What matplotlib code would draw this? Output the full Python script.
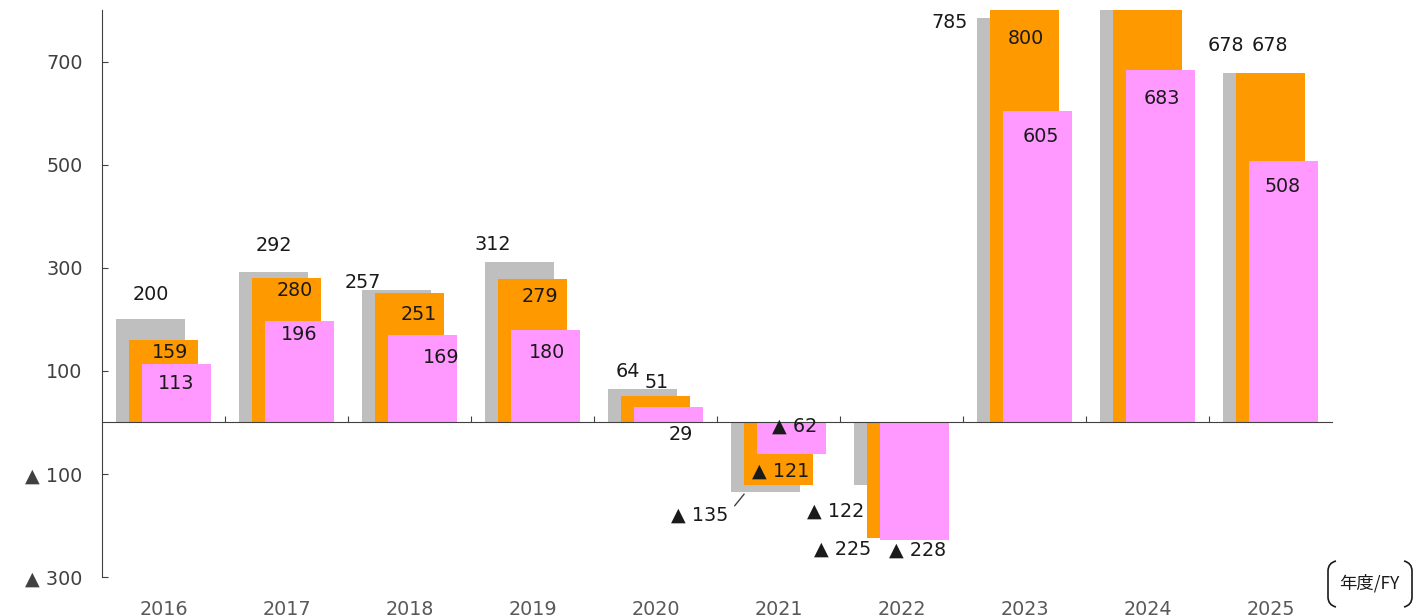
import matplotlib.pyplot as plt
import matplotlib.transforms as mtransforms
from matplotlib.path import Path
from matplotlib.patches import PathPatch

years = ['2016', '2017', '2018', '2019', '2020', '2021', '2022', '2023', '2024', '2025']
gray_vals = [200, 292, 257, 312, 64, -135, -122, 785, 860, 678]
orange_vals = [159, 280, 251, 279, 51, -121, -225, 800, 880, 678]
pink_vals = [113, 196, 169, 180, 29, -62, -228, 605, 683, 508]

# label offsets in pixels (dx, dy) from bar end
gray_off = [(0, 25), (0, 26), (-34, 7), (-27, 17), (-15, 18), (-66, -23),
            (-53, -26), (-62, -5), (0, 25), (-32, 27)]
orange_off = [(7, -12), (8, -12), (9, -22), (7, -18), (1, 14), (2, 14),
              (-59, -11), (1, -28), (0, -28), (-1, 27)]
pink_off = [(0, -19), (0, -13), (19, -22), (2, -23), (12, -27), (3, 28),
            (3, -10), (3, -26), (1, -28), (-1, -26)]


def fmt(v):
    return str(v) if v >= 0 else '▲ ' + str(-v)


fig = plt.figure(figsize=(14.14, 6.16), dpi=100)
ax = fig.add_axes([102 / 1414, 39 / 616, 1230 / 1414, 567 / 616])

x = list(range(len(years)))
w = 0.56
series = [
    (gray_vals, -0.105, '#bfbfbf', gray_off),
    (orange_vals, 0.0, '#ff9900', orange_off),
    (pink_vals, 0.105, '#ff99ff', pink_off),
]
for vals, shift, color, offs in series:
    xs = [i + shift for i in x]
    ax.bar(xs, vals, width=w, color=color, zorder=2)
    for xi, v, (dx, dy) in zip(xs, vals, offs):
        ax.annotate(fmt(v), (xi, v), xytext=(dx, dy), textcoords='offset pixels',
                    ha='center', va='center', fontsize=13.8, color='#1a1a1a',
                    annotation_clip=True, clip_on=True, zorder=3)

# leader line for 2021 gray label
ax.annotate('', (5 - 0.105 - 0.16, -135), xytext=(-13, -16),
            textcoords='offset pixels',
            arrowprops=dict(arrowstyle='-', color='#404040', lw=1))

ax.set_xlim(-0.5, 9.5)
ax.set_ylim(-300, 800)

for s in ['top', 'right']:
    ax.spines[s].set_visible(False)
ax.spines['bottom'].set_position(('data', 0))
ax.spines['left'].set_color('#404040')
ax.spines['bottom'].set_color('#404040')

ax.set_yticks([700, 500, 300, 100, -100, -300])
ax.set_yticklabels([fmt(v) for v in [700, 500, 300, 100, -100, -300]])
ax.tick_params(axis='y', direction='in', length=4.5, pad=14, labelsize=13.8,
               labelcolor='#404040', color='#404040')
ax.set_xticks([i + 0.5 for i in range(9)])
ax.set_xticklabels([])
ax.tick_params(axis='x', direction='in', length=4.5, color='#404040')

trans = mtransforms.blended_transform_factory(ax.transData, ax.transAxes)
for i, y in enumerate(years):
    ax.text(i, -0.057, y, transform=trans, ha='center', va='center',
            fontsize=13.8, color='#595959', clip_on=False)

# unit label with brackets
fig.text(1369 / 1414, 1 - 583 / 616, '年度/FY', ha='center', va='center',
         fontsize=12.5, color='#1a1a1a', family=['Noto Sans CJK JP', 'DejaVu Sans'])


def fp(px, py):
    return (px / 1414, 1 - py / 616)


codes = [Path.MOVETO, Path.CURVE3, Path.CURVE3, Path.LINETO, Path.CURVE3, Path.CURVE3]
left = [fp(1336, 561), fp(1328, 563), fp(1328, 571), fp(1328, 597), fp(1328, 605), fp(1336, 607)]
right = [fp(1404, 561), fp(1412, 563), fp(1412, 571), fp(1412, 597), fp(1412, 605), fp(1404, 607)]
for pts in (left, right):
    fig.add_artist(PathPatch(Path(pts, codes), fill=False, lw=1.2,
                             edgecolor='#1a1a1a', transform=fig.transFigure))

fig.savefig('out.png', dpi=100)
